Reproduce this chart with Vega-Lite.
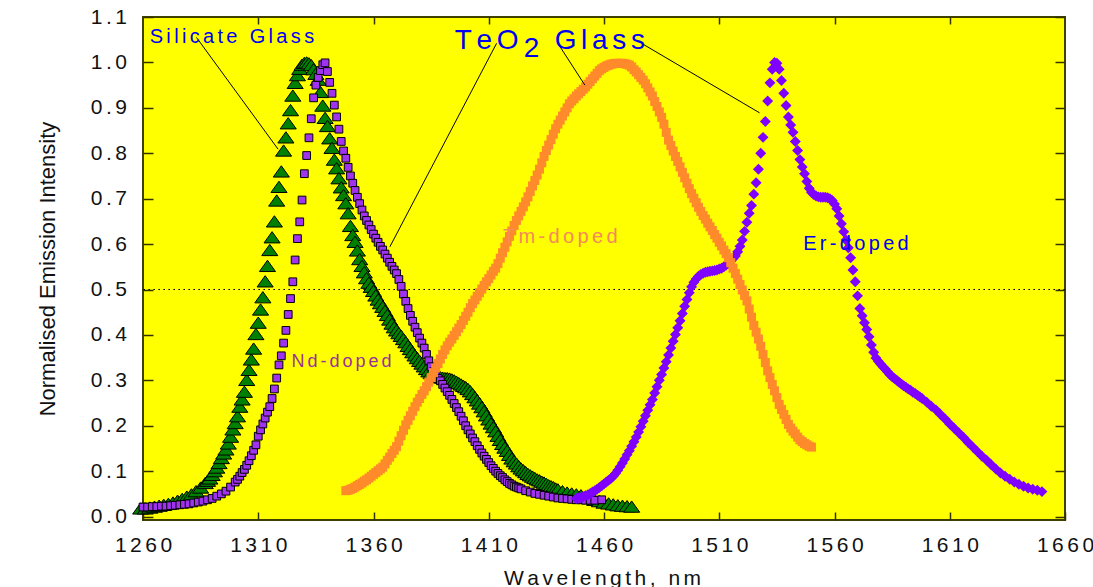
{
  "$schema": "https://vega.github.io/schema/vega-lite/v6.json",
  "width": 922,
  "height": 503,
  "autosize": {"type": "none"},
  "padding": {"left": 143, "top": 17, "right": 28, "bottom": 67},
  "background": "white",
  "config": {
    "font": "Liberation Sans",
    "view": {"fill": "#FFFF00", "stroke": "#404000", "strokeWidth": 2},
    "axis": {
      "domain": false,
      "grid": false,
      "tickColor": "#333300",
      "tickWidth": 1.5,
      "labelFont": "Liberation Sans",
      "labelColor": "#111111",
      "titleFont": "Liberation Sans",
      "titleFontWeight": "normal",
      "titleColor": "#111111"
    }
  },
  "datasets": {
    "silicate": [
      {"wl":1259,"i":0.018},{"wl":1261,"i":0.018},{"wl":1263,"i":0.020},{"wl":1265,"i":0.022},{"wl":1267,"i":0.024},{"wl":1269,"i":0.026},{"wl":1271,"i":0.028},{"wl":1273,"i":0.031},{"wl":1275,"i":0.035},{"wl":1277,"i":0.039},{"wl":1279,"i":0.044},{"wl":1281,"i":0.049},{"wl":1283,"i":0.056},{"wl":1285,"i":0.064},{"wl":1287,"i":0.074},
      {"wl":1288,"i":0.079},{"wl":1289,"i":0.084},{"wl":1290,"i":0.092},{"wl":1291,"i":0.100},{"wl":1292,"i":0.108},{"wl":1293,"i":0.118},{"wl":1294,"i":0.129},{"wl":1295,"i":0.139},{"wl":1296,"i":0.148},{"wl":1297,"i":0.161},{"wl":1298,"i":0.176},{"wl":1299,"i":0.192},
      {"wl":1300,"i":0.206},{"wl":1301,"i":0.221},{"wl":1302,"i":0.242},{"wl":1303,"i":0.258},{"wl":1304,"i":0.275},{"wl":1305,"i":0.301},{"wl":1306,"i":0.323},{"wl":1307,"i":0.346},{"wl":1308,"i":0.370},{"wl":1309,"i":0.402},
      {"wl":1310,"i":0.427},{"wl":1311,"i":0.456},{"wl":1312,"i":0.483},{"wl":1313,"i":0.518},{"wl":1314,"i":0.552},{"wl":1315,"i":0.587},{"wl":1316,"i":0.615},{"wl":1317,"i":0.650},{"wl":1318,"i":0.696},{"wl":1319,"i":0.726},
      {"wl":1320,"i":0.760},{"wl":1321,"i":0.806},{"wl":1322,"i":0.835},{"wl":1323,"i":0.866},{"wl":1324,"i":0.895},{"wl":1325,"i":0.927},{"wl":1326,"i":0.955},{"wl":1327,"i":0.972},{"wl":1328,"i":0.986},{"wl":1329,"i":0.995},
      {"wl":1330,"i":0.999},{"wl":1331,"i":1.000},{"wl":1332,"i":0.998},{"wl":1333,"i":0.994},{"wl":1334,"i":0.985},{"wl":1335,"i":0.975},{"wl":1336,"i":0.962},{"wl":1337,"i":0.935},{"wl":1338,"i":0.905},{"wl":1339,"i":0.878},
      {"wl":1340,"i":0.860},{"wl":1341,"i":0.833},{"wl":1342,"i":0.812},{"wl":1343,"i":0.786},{"wl":1344,"i":0.767},{"wl":1345,"i":0.745},{"wl":1346,"i":0.725},{"wl":1347,"i":0.708},{"wl":1348,"i":0.690},{"wl":1349,"i":0.668},
      {"wl":1350,"i":0.640},{"wl":1351,"i":0.620},{"wl":1352,"i":0.605},{"wl":1353,"i":0.586},{"wl":1354,"i":0.567},{"wl":1355,"i":0.552},{"wl":1356,"i":0.538},{"wl":1357,"i":0.525},{"wl":1358,"i":0.515},{"wl":1359,"i":0.506},
      {"wl":1360,"i":0.497},{"wl":1361,"i":0.487},{"wl":1362,"i":0.478},{"wl":1363,"i":0.470},{"wl":1364,"i":0.462},{"wl":1365,"i":0.453},{"wl":1366,"i":0.444},{"wl":1367,"i":0.434},{"wl":1368,"i":0.425},{"wl":1369,"i":0.417},
      {"wl":1370,"i":0.410},{"wl":1371,"i":0.404},{"wl":1372,"i":0.398},{"wl":1373,"i":0.391},{"wl":1374,"i":0.384},{"wl":1375,"i":0.376},{"wl":1376,"i":0.369},{"wl":1377,"i":0.362},{"wl":1378,"i":0.355},{"wl":1379,"i":0.349},
      {"wl":1380,"i":0.343},{"wl":1381,"i":0.337},{"wl":1382,"i":0.331},{"wl":1383,"i":0.325},{"wl":1384,"i":0.320},{"wl":1385,"i":0.316},{"wl":1386,"i":0.313},{"wl":1387,"i":0.310},{"wl":1388,"i":0.308},{"wl":1389,"i":0.307},
      {"wl":1390,"i":0.306},{"wl":1391,"i":0.305},{"wl":1392,"i":0.305},{"wl":1393,"i":0.304},{"wl":1394,"i":0.302},{"wl":1395,"i":0.300},{"wl":1396,"i":0.297},{"wl":1397,"i":0.294},{"wl":1398,"i":0.291},{"wl":1399,"i":0.288},
      {"wl":1400,"i":0.285},{"wl":1401,"i":0.281},{"wl":1402,"i":0.276},{"wl":1403,"i":0.270},{"wl":1404,"i":0.263},{"wl":1405,"i":0.256},{"wl":1406,"i":0.249},{"wl":1407,"i":0.241},{"wl":1408,"i":0.232},{"wl":1409,"i":0.223},
      {"wl":1410,"i":0.214},{"wl":1411,"i":0.205},{"wl":1412,"i":0.197},{"wl":1413,"i":0.188},{"wl":1414,"i":0.178},{"wl":1415,"i":0.169},{"wl":1416,"i":0.160},{"wl":1417,"i":0.152},{"wl":1418,"i":0.145},{"wl":1419,"i":0.136},
      {"wl":1420,"i":0.128},{"wl":1421,"i":0.122},{"wl":1422,"i":0.117},{"wl":1423,"i":0.111},{"wl":1424,"i":0.106},{"wl":1425,"i":0.102},{"wl":1426,"i":0.098},{"wl":1427,"i":0.094},{"wl":1428,"i":0.091},{"wl":1429,"i":0.088},
      {"wl":1430,"i":0.085},{"wl":1431,"i":0.082},{"wl":1432,"i":0.080},{"wl":1433,"i":0.077},{"wl":1434,"i":0.075},{"wl":1435,"i":0.072},{"wl":1436,"i":0.069},{"wl":1437,"i":0.067},{"wl":1438,"i":0.065},{"wl":1439,"i":0.062},
      {"wl":1440,"i":0.060},{"wl":1442,"i":0.056},{"wl":1444,"i":0.053},{"wl":1446,"i":0.051},{"wl":1448,"i":0.049},{"wl":1450,"i":0.047},{"wl":1452,"i":0.044},{"wl":1454,"i":0.041},{"wl":1456,"i":0.037},{"wl":1458,"i":0.034},
      {"wl":1460,"i":0.031},{"wl":1462,"i":0.029},{"wl":1464,"i":0.027},{"wl":1466,"i":0.025},{"wl":1468,"i":0.024},{"wl":1470,"i":0.023},{"wl":1472,"i":0.022}
    ],
    "teNd": [
      {"wl":1260,"i":0.021},{"wl":1262,"i":0.021},{"wl":1264,"i":0.022},{"wl":1266,"i":0.022},{"wl":1268,"i":0.023},{"wl":1270,"i":0.023},{"wl":1272,"i":0.024},{"wl":1274,"i":0.025},{"wl":1276,"i":0.026},{"wl":1278,"i":0.027},
      {"wl":1280,"i":0.028},{"wl":1282,"i":0.030},{"wl":1284,"i":0.032},{"wl":1286,"i":0.034},{"wl":1288,"i":0.037},{"wl":1290,"i":0.040},{"wl":1292,"i":0.045},{"wl":1294,"i":0.050},{"wl":1296,"i":0.056},{"wl":1298,"i":0.065},
      {"wl":1300,"i":0.076},{"wl":1301,"i":0.082},{"wl":1302,"i":0.089},{"wl":1303,"i":0.097},{"wl":1304,"i":0.104},{"wl":1305,"i":0.113},{"wl":1306,"i":0.123},{"wl":1307,"i":0.134},{"wl":1308,"i":0.146},{"wl":1309,"i":0.158},
      {"wl":1310,"i":0.177},{"wl":1311,"i":0.191},{"wl":1312,"i":0.204},{"wl":1313,"i":0.217},{"wl":1314,"i":0.230},{"wl":1315,"i":0.242},{"wl":1316,"i":0.260},{"wl":1317,"i":0.281},{"wl":1318,"i":0.305},{"wl":1319,"i":0.334},
      {"wl":1320,"i":0.354},{"wl":1321,"i":0.382},{"wl":1322,"i":0.410},{"wl":1323,"i":0.445},{"wl":1324,"i":0.480},{"wl":1325,"i":0.517},{"wl":1326,"i":0.565},{"wl":1327,"i":0.612},{"wl":1328,"i":0.649},{"wl":1329,"i":0.697},
      {"wl":1330,"i":0.755},{"wl":1331,"i":0.795},{"wl":1332,"i":0.834},{"wl":1333,"i":0.876},{"wl":1334,"i":0.922},{"wl":1335,"i":0.950},{"wl":1336,"i":0.967},{"wl":1337,"i":0.982},{"wl":1338,"i":0.995},{"wl":1339,"i":0.999},
      {"wl":1340,"i":0.980},{"wl":1341,"i":0.956},{"wl":1342,"i":0.932},{"wl":1343,"i":0.906},{"wl":1344,"i":0.880},{"wl":1345,"i":0.853},{"wl":1346,"i":0.826},{"wl":1347,"i":0.805},{"wl":1348,"i":0.789},{"wl":1349,"i":0.769},
      {"wl":1350,"i":0.750},{"wl":1351,"i":0.734},{"wl":1352,"i":0.718},{"wl":1353,"i":0.703},{"wl":1354,"i":0.689},{"wl":1355,"i":0.675},{"wl":1356,"i":0.662},{"wl":1357,"i":0.652},{"wl":1358,"i":0.642},{"wl":1359,"i":0.632},
      {"wl":1360,"i":0.622},{"wl":1361,"i":0.613},{"wl":1362,"i":0.604},{"wl":1363,"i":0.595},{"wl":1364,"i":0.587},{"wl":1365,"i":0.578},{"wl":1366,"i":0.569},{"wl":1367,"i":0.560},{"wl":1368,"i":0.551},{"wl":1369,"i":0.543},
      {"wl":1370,"i":0.535},{"wl":1371,"i":0.522},{"wl":1372,"i":0.507},{"wl":1373,"i":0.490},{"wl":1374,"i":0.474},{"wl":1375,"i":0.458},{"wl":1376,"i":0.443},{"wl":1377,"i":0.430},{"wl":1378,"i":0.417},{"wl":1379,"i":0.405},
      {"wl":1380,"i":0.393},{"wl":1381,"i":0.382},{"wl":1382,"i":0.371},{"wl":1383,"i":0.357},{"wl":1384,"i":0.343},{"wl":1385,"i":0.330},{"wl":1386,"i":0.319},{"wl":1387,"i":0.310},{"wl":1388,"i":0.304},{"wl":1389,"i":0.299},
      {"wl":1390,"i":0.291},{"wl":1391,"i":0.283},{"wl":1392,"i":0.275},{"wl":1393,"i":0.267},{"wl":1394,"i":0.258},{"wl":1395,"i":0.249},{"wl":1396,"i":0.240},{"wl":1397,"i":0.231},{"wl":1398,"i":0.221},{"wl":1399,"i":0.211},
      {"wl":1400,"i":0.200},{"wl":1401,"i":0.191},{"wl":1402,"i":0.182},{"wl":1403,"i":0.173},{"wl":1404,"i":0.165},{"wl":1405,"i":0.156},{"wl":1406,"i":0.148},{"wl":1407,"i":0.140},{"wl":1408,"i":0.133},{"wl":1409,"i":0.126},
      {"wl":1410,"i":0.119},{"wl":1411,"i":0.112},{"wl":1412,"i":0.106},{"wl":1413,"i":0.100},{"wl":1414,"i":0.095},{"wl":1415,"i":0.090},{"wl":1416,"i":0.086},{"wl":1417,"i":0.081},{"wl":1418,"i":0.077},{"wl":1419,"i":0.073},
      {"wl":1420,"i":0.070},{"wl":1421,"i":0.067},{"wl":1422,"i":0.065},{"wl":1423,"i":0.063},{"wl":1424,"i":0.061},{"wl":1426,"i":0.057},{"wl":1428,"i":0.054},{"wl":1430,"i":0.051},{"wl":1432,"i":0.049},{"wl":1434,"i":0.047},{"wl":1436,"i":0.045},{"wl":1438,"i":0.043},
      {"wl":1440,"i":0.041},{"wl":1442,"i":0.040},{"wl":1444,"i":0.039},{"wl":1446,"i":0.038},{"wl":1448,"i":0.037},{"wl":1450,"i":0.037},{"wl":1452,"i":0.036},{"wl":1454,"i":0.036},{"wl":1456,"i":0.036},{"wl":1459,"i":0.037}
    ],
    "teTm": [
      {"wl":1348,"i":0.057},{"wl":1349,"i":0.058},{"wl":1350,"i":0.060},{"wl":1351,"i":0.062},{"wl":1352,"i":0.065},{"wl":1353,"i":0.068},{"wl":1354,"i":0.071},{"wl":1355,"i":0.074},{"wl":1356,"i":0.078},{"wl":1357,"i":0.081},
      {"wl":1358,"i":0.085},{"wl":1359,"i":0.089},{"wl":1360,"i":0.093},{"wl":1361,"i":0.097},{"wl":1362,"i":0.101},{"wl":1363,"i":0.105},{"wl":1364,"i":0.109},{"wl":1365,"i":0.116},{"wl":1366,"i":0.124},{"wl":1367,"i":0.131},
      {"wl":1368,"i":0.139},{"wl":1369,"i":0.146},{"wl":1370,"i":0.154},{"wl":1371,"i":0.166},{"wl":1372,"i":0.178},{"wl":1373,"i":0.190},{"wl":1374,"i":0.202},{"wl":1375,"i":0.212},{"wl":1376,"i":0.222},{"wl":1377,"i":0.232},
      {"wl":1378,"i":0.242},{"wl":1379,"i":0.252},{"wl":1380,"i":0.260},{"wl":1381,"i":0.269},{"wl":1382,"i":0.277},{"wl":1383,"i":0.286},{"wl":1384,"i":0.296},{"wl":1385,"i":0.306},{"wl":1386,"i":0.317},{"wl":1387,"i":0.327},
      {"wl":1388,"i":0.337},{"wl":1389,"i":0.347},{"wl":1390,"i":0.357},{"wl":1391,"i":0.367},{"wl":1392,"i":0.376},{"wl":1393,"i":0.384},{"wl":1394,"i":0.391},{"wl":1395,"i":0.399},{"wl":1396,"i":0.407},{"wl":1397,"i":0.415},
      {"wl":1398,"i":0.423},{"wl":1399,"i":0.432},{"wl":1400,"i":0.441},{"wl":1401,"i":0.450},{"wl":1402,"i":0.460},{"wl":1403,"i":0.469},{"wl":1404,"i":0.477},{"wl":1405,"i":0.485},{"wl":1406,"i":0.493},{"wl":1407,"i":0.501},
      {"wl":1408,"i":0.509},{"wl":1409,"i":0.517},{"wl":1410,"i":0.524},{"wl":1411,"i":0.532},{"wl":1412,"i":0.540},{"wl":1413,"i":0.547},{"wl":1414,"i":0.557},{"wl":1415,"i":0.569},{"wl":1416,"i":0.581},{"wl":1417,"i":0.593},
      {"wl":1418,"i":0.605},{"wl":1419,"i":0.617},{"wl":1420,"i":0.629},{"wl":1421,"i":0.641},{"wl":1422,"i":0.652},{"wl":1423,"i":0.662},{"wl":1424,"i":0.672},{"wl":1425,"i":0.682},{"wl":1426,"i":0.693},{"wl":1427,"i":0.704},
      {"wl":1428,"i":0.716},{"wl":1429,"i":0.728},{"wl":1430,"i":0.740},{"wl":1431,"i":0.752},{"wl":1432,"i":0.765},{"wl":1433,"i":0.779},{"wl":1434,"i":0.793},{"wl":1435,"i":0.806},{"wl":1436,"i":0.818},{"wl":1437,"i":0.830},
      {"wl":1438,"i":0.842},{"wl":1439,"i":0.854},{"wl":1440,"i":0.864},{"wl":1441,"i":0.873},{"wl":1442,"i":0.882},{"wl":1443,"i":0.891},{"wl":1444,"i":0.900},{"wl":1445,"i":0.909},{"wl":1446,"i":0.915},{"wl":1447,"i":0.920},
      {"wl":1448,"i":0.926},{"wl":1449,"i":0.931},{"wl":1450,"i":0.936},{"wl":1451,"i":0.941},{"wl":1452,"i":0.946},{"wl":1453,"i":0.952},{"wl":1454,"i":0.958},{"wl":1455,"i":0.964},{"wl":1456,"i":0.970},{"wl":1457,"i":0.976},
      {"wl":1458,"i":0.982},{"wl":1459,"i":0.986},{"wl":1460,"i":0.989},{"wl":1461,"i":0.992},{"wl":1462,"i":0.994},{"wl":1463,"i":0.996},{"wl":1464,"i":0.997},{"wl":1465,"i":0.998},{"wl":1466,"i":0.998},{"wl":1467,"i":0.998},
      {"wl":1468,"i":0.998},{"wl":1469,"i":0.997},{"wl":1470,"i":0.996},{"wl":1471,"i":0.994},{"wl":1472,"i":0.990},{"wl":1473,"i":0.984},{"wl":1474,"i":0.979},{"wl":1475,"i":0.973},{"wl":1476,"i":0.967},{"wl":1477,"i":0.961},
      {"wl":1478,"i":0.953},{"wl":1479,"i":0.944},{"wl":1480,"i":0.935},{"wl":1481,"i":0.926},{"wl":1482,"i":0.914},{"wl":1483,"i":0.903},{"wl":1484,"i":0.891},{"wl":1485,"i":0.879},{"wl":1486,"i":0.864},{"wl":1487,"i":0.846},
      {"wl":1488,"i":0.829},{"wl":1489,"i":0.817},{"wl":1490,"i":0.805},{"wl":1491,"i":0.793},{"wl":1492,"i":0.782},{"wl":1493,"i":0.770},{"wl":1494,"i":0.758},{"wl":1495,"i":0.746},{"wl":1496,"i":0.734},{"wl":1497,"i":0.722},
      {"wl":1498,"i":0.711},{"wl":1499,"i":0.701},{"wl":1500,"i":0.691},{"wl":1501,"i":0.681},{"wl":1502,"i":0.672},{"wl":1503,"i":0.663},{"wl":1504,"i":0.655},{"wl":1505,"i":0.646},{"wl":1506,"i":0.638},{"wl":1507,"i":0.630},
      {"wl":1508,"i":0.621},{"wl":1509,"i":0.613},{"wl":1510,"i":0.604},{"wl":1511,"i":0.596},{"wl":1512,"i":0.587},{"wl":1513,"i":0.579},{"wl":1514,"i":0.570},{"wl":1515,"i":0.559},{"wl":1516,"i":0.547},{"wl":1517,"i":0.535},
      {"wl":1518,"i":0.523},{"wl":1519,"i":0.511},{"wl":1520,"i":0.499},{"wl":1521,"i":0.487},{"wl":1522,"i":0.475},{"wl":1523,"i":0.457},{"wl":1524,"i":0.439},{"wl":1525,"i":0.421},{"wl":1526,"i":0.406},{"wl":1527,"i":0.391},
      {"wl":1528,"i":0.375},{"wl":1529,"i":0.357},{"wl":1530,"i":0.339},{"wl":1531,"i":0.321},{"wl":1532,"i":0.306},{"wl":1533,"i":0.291},{"wl":1534,"i":0.277},{"wl":1535,"i":0.262},{"wl":1536,"i":0.247},{"wl":1537,"i":0.236},
      {"wl":1538,"i":0.225},{"wl":1539,"i":0.214},{"wl":1540,"i":0.203},{"wl":1541,"i":0.195},{"wl":1542,"i":0.188},{"wl":1543,"i":0.182},{"wl":1544,"i":0.175},{"wl":1545,"i":0.169},{"wl":1546,"i":0.165},{"wl":1547,"i":0.161},
      {"wl":1548,"i":0.158},{"wl":1549,"i":0.155},{"wl":1550,"i":0.153}
    ],
    "teEr": [
      {"wl":1448,"i":0.040},{"wl":1449,"i":0.041},{"wl":1450,"i":0.042},{"wl":1451,"i":0.044},{"wl":1452,"i":0.046},{"wl":1453,"i":0.048},{"wl":1454,"i":0.051},{"wl":1455,"i":0.054},{"wl":1456,"i":0.057},{"wl":1457,"i":0.060},
      {"wl":1458,"i":0.064},{"wl":1459,"i":0.068},{"wl":1460,"i":0.072},{"wl":1461,"i":0.076},{"wl":1462,"i":0.080},{"wl":1463,"i":0.084},{"wl":1464,"i":0.089},{"wl":1465,"i":0.095},{"wl":1466,"i":0.102},{"wl":1467,"i":0.110},
      {"wl":1468,"i":0.118},{"wl":1469,"i":0.127},{"wl":1470,"i":0.136},{"wl":1471,"i":0.145},{"wl":1472,"i":0.155},{"wl":1473,"i":0.165},{"wl":1474,"i":0.175},{"wl":1475,"i":0.186},{"wl":1476,"i":0.198},{"wl":1477,"i":0.210},
      {"wl":1478,"i":0.222},{"wl":1479,"i":0.234},{"wl":1480,"i":0.246},{"wl":1481,"i":0.258},{"wl":1482,"i":0.272},{"wl":1483,"i":0.286},{"wl":1484,"i":0.300},{"wl":1485,"i":0.313},{"wl":1486,"i":0.327},{"wl":1487,"i":0.341},
      {"wl":1488,"i":0.356},{"wl":1489,"i":0.371},{"wl":1490,"i":0.386},{"wl":1491,"i":0.401},{"wl":1492,"i":0.416},{"wl":1493,"i":0.431},{"wl":1494,"i":0.447},{"wl":1495,"i":0.463},{"wl":1496,"i":0.478},{"wl":1497,"i":0.493},
      {"wl":1498,"i":0.506},{"wl":1499,"i":0.516},{"wl":1500,"i":0.523},{"wl":1501,"i":0.529},{"wl":1502,"i":0.533},{"wl":1503,"i":0.536},{"wl":1504,"i":0.538},{"wl":1505,"i":0.539},{"wl":1506,"i":0.540},{"wl":1507,"i":0.541},
      {"wl":1508,"i":0.542},{"wl":1509,"i":0.543},{"wl":1510,"i":0.545},{"wl":1511,"i":0.547},{"wl":1512,"i":0.550},{"wl":1513,"i":0.554},{"wl":1514,"i":0.558},{"wl":1515,"i":0.563},{"wl":1516,"i":0.568},{"wl":1517,"i":0.574},
      {"wl":1518,"i":0.583},{"wl":1519,"i":0.595},{"wl":1520,"i":0.609},{"wl":1521,"i":0.628},{"wl":1522,"i":0.648},{"wl":1523,"i":0.668},{"wl":1524,"i":0.685},{"wl":1525,"i":0.710},{"wl":1526,"i":0.735},{"wl":1527,"i":0.765},
      {"wl":1528,"i":0.800},{"wl":1529,"i":0.835},{"wl":1530,"i":0.870},{"wl":1531,"i":0.915},{"wl":1532,"i":0.955},{"wl":1533,"i":0.985},{"wl":1534,"i":1.000},{"wl":1535,"i":0.998},{"wl":1536,"i":0.985},{"wl":1537,"i":0.960},
      {"wl":1538,"i":0.932},{"wl":1539,"i":0.905},{"wl":1540,"i":0.880},{"wl":1541,"i":0.862},{"wl":1542,"i":0.846},{"wl":1543,"i":0.826},{"wl":1544,"i":0.806},{"wl":1545,"i":0.786},{"wl":1546,"i":0.770},{"wl":1547,"i":0.755},
      {"wl":1548,"i":0.738},{"wl":1549,"i":0.723},{"wl":1550,"i":0.714},{"wl":1551,"i":0.709},{"wl":1552,"i":0.706},{"wl":1553,"i":0.704},{"wl":1554,"i":0.703},{"wl":1555,"i":0.703},{"wl":1556,"i":0.703},{"wl":1557,"i":0.702},
      {"wl":1558,"i":0.700},{"wl":1559,"i":0.696},{"wl":1560,"i":0.688},{"wl":1561,"i":0.678},{"wl":1562,"i":0.662},{"wl":1563,"i":0.645},{"wl":1564,"i":0.627},{"wl":1565,"i":0.609},{"wl":1566,"i":0.592},{"wl":1567,"i":0.570},
      {"wl":1568,"i":0.543},{"wl":1569,"i":0.517},{"wl":1570,"i":0.486},{"wl":1571,"i":0.458},{"wl":1572,"i":0.442},{"wl":1573,"i":0.427},{"wl":1574,"i":0.412},{"wl":1575,"i":0.396},{"wl":1576,"i":0.378},{"wl":1577,"i":0.362},
      {"wl":1578,"i":0.349},{"wl":1579,"i":0.342},{"wl":1580,"i":0.336},{"wl":1581,"i":0.330},{"wl":1582,"i":0.325},{"wl":1583,"i":0.319},{"wl":1584,"i":0.313},{"wl":1585,"i":0.308},{"wl":1586,"i":0.304},{"wl":1587,"i":0.300},
      {"wl":1588,"i":0.296},{"wl":1589,"i":0.292},{"wl":1590,"i":0.288},{"wl":1591,"i":0.285},{"wl":1592,"i":0.281},{"wl":1593,"i":0.278},{"wl":1594,"i":0.274},{"wl":1595,"i":0.271},{"wl":1596,"i":0.267},{"wl":1597,"i":0.264},
      {"wl":1598,"i":0.260},{"wl":1600,"i":0.252},{"wl":1602,"i":0.243},{"wl":1604,"i":0.235},{"wl":1606,"i":0.225},{"wl":1608,"i":0.215},{"wl":1610,"i":0.204},{"wl":1612,"i":0.194},{"wl":1614,"i":0.184},{"wl":1616,"i":0.174},
      {"wl":1618,"i":0.163},{"wl":1620,"i":0.153},{"wl":1622,"i":0.143},{"wl":1624,"i":0.133},{"wl":1626,"i":0.124},{"wl":1628,"i":0.114},{"wl":1630,"i":0.105},{"wl":1632,"i":0.096},{"wl":1634,"i":0.089},{"wl":1636,"i":0.082},
      {"wl":1638,"i":0.076},{"wl":1640,"i":0.071},{"wl":1642,"i":0.067},{"wl":1644,"i":0.063},{"wl":1646,"i":0.060},{"wl":1648,"i":0.058},{"wl":1650,"i":0.055}
    ],
    "leaders": [
      {"wl":1283.2,"i":1.055,"wl2":1318.6,"i2":0.809},
      {"wl":1413.4,"i":1.042,"wl2":1367.1,"i2":0.594},
      {"wl":1440.5,"i":1.038,"wl2":1451.7,"i2":0.950},
      {"wl":1476.3,"i":1.042,"wl2":1527.5,"i2":0.889}
    ],
    "notes": [
      {"id":"silicate","text":"S\u2006i\u2006l\u2006i\u2006c\u2006a\u2006t\u2006e\u2006 \u2006G\u2006l\u2006a\u2006s\u2006s","wl":1262.9,"i":1.043},
      {"id":"teo","text":"T\u2006e\u2006O","wl":1395.2,"i":1.029},
      {"id":"sub2","text":"2","wl":1425.2,"i":1.0126},
      {"id":"glass","text":"G\u2006l\u2006a\u2006s\u2006s","wl":1438.6,"i":1.029},
      {"id":"nd","text":"N\u2006d\u2006-\u2006d\u2006o\u2006p\u2006e\u2006d","wl":1324.4,"i":0.330},
      {"id":"tm","text":"T\u2006m\u2006-\u2006d\u2006o\u2006p\u2006e\u2006d","wl":1416.2,"i":0.603},
      {"id":"er","text":"E\u2006r\u2006-\u2006d\u2006o\u2006p\u2006e\u2006d","wl":1546.4,"i":0.587}
    ]
  },
  "layer": [
    {
      "data": {"name": "leaders"},
      "mark": {"type": "rule", "color": "black", "strokeWidth": 1.2, "strokeDash": [1.2, 3.8]},
      "encoding": {
        "y": {"datum": 0.5, "type": "quantitative", "scale": {"domain": [-0.0075, 1.1], "nice": false, "zero": false}, "axis": null}
      }
    },
    {
      "data": {"name": "silicate"},
      "mark": {"type": "point", "shape": "M0,-0.7L1,0.7L-1,0.7Z", "size": 260, "filled": true, "fill": "#008000", "stroke": "black", "strokeWidth": 1, "opacity": 1},
      "encoding": {
        "x": {
          "field": "wl", "type": "quantitative",
          "scale": {"domain": [1260, 1660], "nice": false, "zero": false},
          "axis": {
            "orient": "bottom",
            "values": [1260, 1310, 1360, 1410, 1460, 1510, 1560, 1610, 1660],
            "format": "d",
            "tickSize": -8,
            "labelPadding": 22,
            "labelFontSize": 21,
            "labelFlush": false,
            "labelOverlap": false,
            "labelExpr": "join(split(datum.label, ''), '\u2006')",
            "title": "W\u2006a\u2006v\u2006e\u2006l\u2006e\u2006n\u2006g\u2006t\u2006h\u2006,\u2006 \u2006n\u2006m",
            "titleFontSize": 21,
            "titleX": 459,
            "titleY": 64,
            "titleBaseline": "alphabetic",
            "titleAlign": "center"
          }
        },
        "y": {
          "field": "i", "type": "quantitative",
          "scale": {"domain": [-0.0075, 1.1], "nice": false, "zero": false},
          "axis": {
            "orient": "left",
            "values": [0, 0.1, 0.2, 0.3, 0.4, 0.5, 0.6, 0.7, 0.8, 0.9, 1.0, 1.1],
            "format": ".1f",
            "tickSize": -10,
            "labelPadding": 26.6,
            "labelFontSize": 21,
            "labelOverlap": false,
            "labelExpr": "join(split(datum.label, ''), '\u2006')",
            "title": "Normalised Emission Intensity",
            "titleFontSize": 22,
            "titleAngle": -90,
            "titleX": -89,
            "titleY": 251.5,
            "titleBaseline": "alphabetic",
            "titleAlign": "center"
          }
        }
      }
    },
    {
      "data": {"name": "teNd"},
      "mark": {"type": "point", "shape": "square", "size": 60, "filled": true, "fill": "#A033F0", "stroke": "black", "strokeWidth": 1, "opacity": 1},
      "encoding": {
        "x": {"field": "wl", "type": "quantitative", "scale": {"domain": [1260, 1660], "nice": false, "zero": false}, "axis": null},
        "y": {"field": "i", "type": "quantitative", "scale": {"domain": [-0.0075, 1.1], "nice": false, "zero": false}, "axis": null}
      }
    },
    {
      "data": {"name": "teEr"},
      "mark": {"type": "point", "shape": "diamond", "size": 120, "filled": true, "fill": "#8000FF", "strokeWidth": 0, "opacity": 1},
      "encoding": {
        "x": {"field": "wl", "type": "quantitative", "scale": {"domain": [1260, 1660], "nice": false, "zero": false}, "axis": null},
        "y": {"field": "i", "type": "quantitative", "scale": {"domain": [-0.0075, 1.1], "nice": false, "zero": false}, "axis": null}
      }
    },
    {
      "data": {"name": "teTm"},
      "mark": {"type": "point", "shape": "square", "size": 81, "filled": true, "fill": "#FF8A2B", "strokeWidth": 0, "opacity": 1},
      "encoding": {
        "x": {"field": "wl", "type": "quantitative", "scale": {"domain": [1260, 1660], "nice": false, "zero": false}, "axis": null},
        "y": {"field": "i", "type": "quantitative", "scale": {"domain": [-0.0075, 1.1], "nice": false, "zero": false}, "axis": null}
      }
    },
    {
      "data": {"name": "leaders"},
      "mark": {"type": "rule", "color": "black", "strokeWidth": 1},
      "encoding": {
        "x": {
          "field": "wl", "type": "quantitative",
          "scale": {"domain": [1260, 1660], "nice": false, "zero": false},
          "axis": {"orient": "top", "values": [1310, 1360, 1410, 1460, 1510, 1560, 1610], "labels": false, "tickSize": -7, "title": null}
        },
        "x2": {"field": "wl2"},
        "y": {
          "field": "i", "type": "quantitative",
          "scale": {"domain": [-0.0075, 1.1], "nice": false, "zero": false},
          "axis": {"orient": "right", "values": [0, 0.1, 0.2, 0.3, 0.4, 0.5, 0.6, 0.7, 0.8, 0.9, 1.0, 1.1], "labels": false, "tickSize": -10, "title": null}
        },
        "y2": {"field": "i2"}
      }
    },
    {
      "data": {"name": "notes"},
      "transform": [{"filter": {"field": "id", "oneOf": ["silicate", "er"]}}],
      "mark": {"type": "text", "align": "left", "baseline": "alphabetic", "font": "Liberation Sans", "fontSize": 20, "color": "#0000F0"},
      "encoding": {
        "x": {"field": "wl", "type": "quantitative", "axis": null},
        "y": {"field": "i", "type": "quantitative", "axis": null},
        "text": {"field": "text"}
      }
    },
    {
      "data": {"name": "notes"},
      "transform": [{"filter": {"field": "id", "oneOf": ["teo", "sub2", "glass"]}}],
      "mark": {"type": "text", "align": "left", "baseline": "alphabetic", "font": "Liberation Sans", "fontSize": 28, "color": "#0000F0"},
      "encoding": {
        "x": {"field": "wl", "type": "quantitative", "axis": null},
        "y": {"field": "i", "type": "quantitative", "axis": null},
        "text": {"field": "text"}
      }
    },
    {
      "data": {"name": "notes"},
      "transform": [{"filter": {"field": "id", "equal": "nd"}}],
      "mark": {"type": "text", "align": "left", "baseline": "alphabetic", "font": "Liberation Sans", "fontSize": 18, "color": "#993399"},
      "encoding": {
        "x": {"field": "wl", "type": "quantitative", "axis": null},
        "y": {"field": "i", "type": "quantitative", "axis": null},
        "text": {"field": "text"}
      }
    },
    {
      "data": {"name": "notes"},
      "transform": [{"filter": {"field": "id", "equal": "tm"}}],
      "mark": {"type": "text", "align": "left", "baseline": "alphabetic", "font": "Liberation Sans", "fontSize": 20, "color": "#F5895C"},
      "encoding": {
        "x": {"field": "wl", "type": "quantitative", "axis": null},
        "y": {"field": "i", "type": "quantitative", "axis": null},
        "text": {"field": "text"}
      }
    }
  ],
  "resolve": {"axis": {"x": "independent", "y": "independent"}}
}
